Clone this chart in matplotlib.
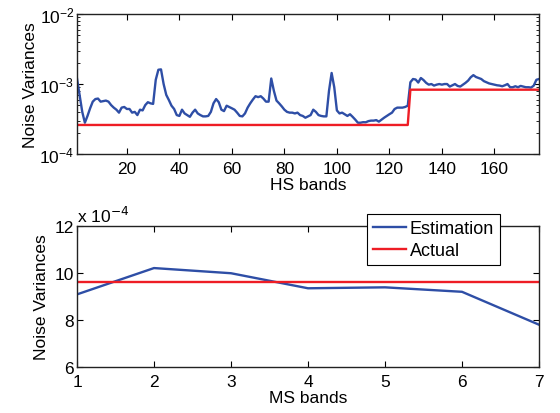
import numpy as np
import matplotlib
matplotlib.use("Agg")
import matplotlib.pyplot as plt
from matplotlib.ticker import LogLocator, NullFormatter

plt.rcParams['font.family'] = ['Liberation Sans', 'DejaVu Sans']

# HS bands: estimated noise variance per band (units of 1e-4)
hs_est = [
    12.0, 7.0, 4.0, 2.8, 3.5, 4.5, 5.6, 6.1, 6.2, 5.6,
    5.7, 5.8, 5.6, 5.0, 4.6, 4.3, 3.9, 4.6, 4.7, 4.4,
    4.4, 3.9, 4.0, 3.6, 4.3, 4.2, 5.0, 5.5, 5.3, 5.2,
    11.5, 16.0, 16.2, 10.0, 7.0, 5.9, 4.9, 4.4, 3.6, 3.5,
    4.3, 3.8, 3.6, 3.4, 3.9, 4.3, 3.8, 3.6, 3.45, 3.45,
    3.5, 4.0, 5.3, 6.1, 5.5, 4.3, 4.1, 4.9, 4.7, 4.5,
    4.3, 3.9, 3.5, 3.45, 3.8, 4.6, 5.3, 6.0, 6.7, 6.5,
    6.7, 6.2, 5.6, 5.6, 12.0, 8.0, 5.8, 5.3, 4.8, 4.3,
    4.0, 3.9, 3.9, 3.8, 3.9, 3.6, 3.5, 3.3, 3.45, 3.6,
    4.3, 4.0, 3.6, 3.5, 3.45, 3.45, 8.0, 14.4, 9.0, 4.2,
    3.8, 3.9, 3.7, 3.5, 3.7, 3.4, 3.1, 2.8, 2.8, 2.85,
    2.84, 2.95, 3.0, 3.0, 3.05, 2.9, 3.1, 3.3, 3.5, 3.7,
    3.9, 4.4, 4.6, 4.6, 4.6, 4.7, 4.9, 10.6, 11.8, 11.6,
    10.5, 12.2, 11.4, 10.4, 9.8, 10.0, 9.5, 9.8, 10.0, 9.8,
    10.0, 10.0, 9.2, 9.6, 10.0, 9.4, 9.2, 9.8, 10.4, 11.2,
    12.5, 13.4, 12.6, 12.2, 11.8, 11.0, 10.6, 10.2, 10.0, 9.8,
    9.6, 9.5, 9.3, 9.6, 10.0, 9.0, 9.0, 9.3, 9.0, 9.4,
    9.2, 9.0, 9.0, 8.9, 9.5, 11.5, 11.8,
]
hs_actual = [2.6] * 127 + [8.3] * 50
hs_bands = np.arange(1, len(hs_est) + 1)

# MS bands (units of 1e-4)
ms_bands = [1, 2, 3, 4, 5, 6, 7]
ms_est = [9.09, 10.21, 9.99, 9.35, 9.39, 9.2, 7.8]
ms_actual = [9.63] * 7

blue = '#2e4ea6'
red = '#ee1d25'
fs = 12.5

fig = plt.figure(figsize=(5.6, 4.14), dpi=100)

# top panel: HS bands, log scale
ax1 = fig.add_axes([0.1375, 0.6256, 0.825, 0.338])
ax1.semilogy(hs_bands, np.array(hs_est) * 1e-4, color=blue, lw=1.7)
ax1.semilogy(hs_bands, np.array(hs_actual) * 1e-4, color=red, lw=1.7)
ax1.set_xlim(1, 177)
ax1.set_ylim(1e-4, 1e-2)
ax1.set_xticks(np.arange(20, 161, 20))
ax1.yaxis.set_major_locator(LogLocator(base=10, numticks=5))
ax1.yaxis.set_minor_locator(LogLocator(base=10, subs=np.arange(2, 10), numticks=10))
ax1.yaxis.set_minor_formatter(NullFormatter())
ax1.set_xlabel('HS bands', fontsize=fs, labelpad=1)
ax1.set_ylabel('Noise Variances', fontsize=fs, labelpad=1)

# bottom panel: MS bands
ax2 = fig.add_axes([0.1375, 0.1111, 0.825, 0.3406])
ax2.plot(ms_bands, ms_est, color=blue, lw=1.7, label='Estimation')
ax2.plot(ms_bands, ms_actual, color=red, lw=1.7, label='Actual')
ax2.set_xlim(1, 7)
ax2.set_ylim(6, 12)
ax2.set_xticks(ms_bands)
ax2.set_yticks([6, 8, 10, 12])
ax2.set_xlabel('MS bands', fontsize=fs, labelpad=1)
ax2.set_ylabel('Noise Variances', fontsize=fs, labelpad=4)
ax2.text(0.0, 1.01, r'x 10$^{-4}$', transform=ax2.transAxes, fontsize=fs,
         ha='left', va='bottom')
leg = ax2.legend(loc='upper left', bbox_to_anchor=(0.628, 1.085), borderaxespad=0,
                 fontsize=13, fancybox=False, framealpha=1, handlelength=1.8,
                 handletextpad=0.2, borderpad=0.35, labelspacing=0.25)
leg.get_frame().set_edgecolor('black')
leg.get_frame().set_linewidth(0.8)

for ax in (ax1, ax2):
    ax.tick_params(which='both', direction='in', top=True, right=True,
                   labelsize=fs)
    ax.tick_params(axis='x', pad=5)
    ax.tick_params(axis='y', pad=2)
    ax.tick_params(which='major', length=4)
    ax.tick_params(which='minor', length=2)
    for sp in ax.spines.values():
        sp.set_linewidth(1.0)
        sp.set_color('#222222')

fig.savefig('out.png', dpi=100)
